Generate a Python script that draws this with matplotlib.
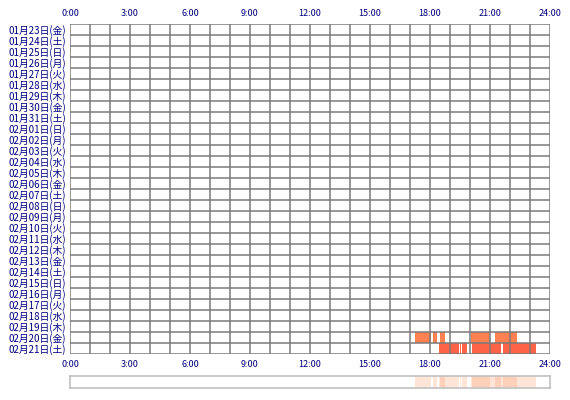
import matplotlib
matplotlib.use("Agg")
import matplotlib.pyplot as plt

plt.rcParams['font.family'] = ['Noto Sans CJK JP', 'DejaVu Sans']

# 日付ラベル (上から順)
day_labels = [
    "01月23日(金)", "01月24日(土)", "01月25日(日)", "01月26日(月)", "01月27日(火)",
    "01月28日(水)", "01月29日(木)", "01月30日(金)", "01月31日(土)", "02月01日(日)",
    "02月02日(月)", "02月03日(火)", "02月04日(水)", "02月05日(木)", "02月06日(金)",
    "02月07日(土)", "02月08日(日)", "02月09日(月)", "02月10日(火)", "02月11日(水)",
    "02月12日(木)", "02月13日(金)", "02月14日(土)", "02月15日(日)", "02月16日(月)",
    "02月17日(火)", "02月18日(水)", "02月19日(木)", "02月20日(金)", "02月21日(土)",
]
hour_ticks = [0, 3, 6, 9, 12, 15, 18, 21, 24]
hour_labels = ["0:00", "3:00", "6:00", "9:00", "12:00", "15:00", "18:00", "21:00", "24:00"]

# 活動時間帯 (開始, 終了) 時
active_0220 = [(17.25, 18.05), (18.15, 18.37), (18.5, 18.75), (20.05, 21.0), (21.25, 22.33)]
active_0221 = [(18.45, 19.45), (19.5, 19.57), (19.62, 19.85), (20.1, 21.55), (21.63, 23.3)]
activity = {"02月20日(金)": active_0220, "02月21日(土)": active_0221}
row_colors = {"02月20日(金)": "#FF8050", "02月21日(土)": "#FF6347"}

text_color = "#000080"
grid_color = "#7A7A7A"

fig = plt.figure(figsize=(5.7, 4.0), dpi=100)
ax = fig.add_axes([70 / 570, 46 / 400, 480 / 570, 330 / 400])

n = len(day_labels)
for label, spans in activity.items():
    row = day_labels.index(label)
    ax.broken_barh([(s, e - s) for s, e in spans], (row, 1),
                   facecolors=row_colors[label], edgecolor="none", zorder=1)

ax.set_xlim(0, 24)
ax.set_ylim(n, 0)
for h in range(25):
    ax.axvline(h, color=grid_color, lw=1.1, zorder=2)
for r in range(n + 1):
    ax.axhline(r, color=grid_color, lw=1.1, zorder=2)
for sp in ax.spines.values():
    sp.set_visible(False)

ax.set_xticks(hour_ticks)
ax.set_xticklabels(hour_labels)
ax.tick_params(axis="x", length=0, pad=4, labelsize=6.5, labelcolor=text_color,
               top=True, labeltop=True, bottom=False, labelbottom=True)
ax.set_yticks([r + 0.5 for r in range(n)])
ax.set_yticklabels(day_labels)
ax.tick_params(axis="y", length=0, pad=3, labelsize=7, labelcolor=text_color)

# 下部の集計バー
ax2 = fig.add_axes([70 / 570, 12 / 400, 480 / 570, 12 / 400])
for label, spans in activity.items():
    for s, e in spans:
        ax2.axvspan(s, e, color="#FF8040", alpha=0.2, lw=0)
ax2.set_xlim(0, 24)
ax2.set_ylim(0, 1)
ax2.set_xticks([])
ax2.set_yticks([])
for sp in ax2.spines.values():
    sp.set_color("#C0C0C0")
    sp.set_linewidth(1.2)

fig.savefig("out.png", dpi=100)
